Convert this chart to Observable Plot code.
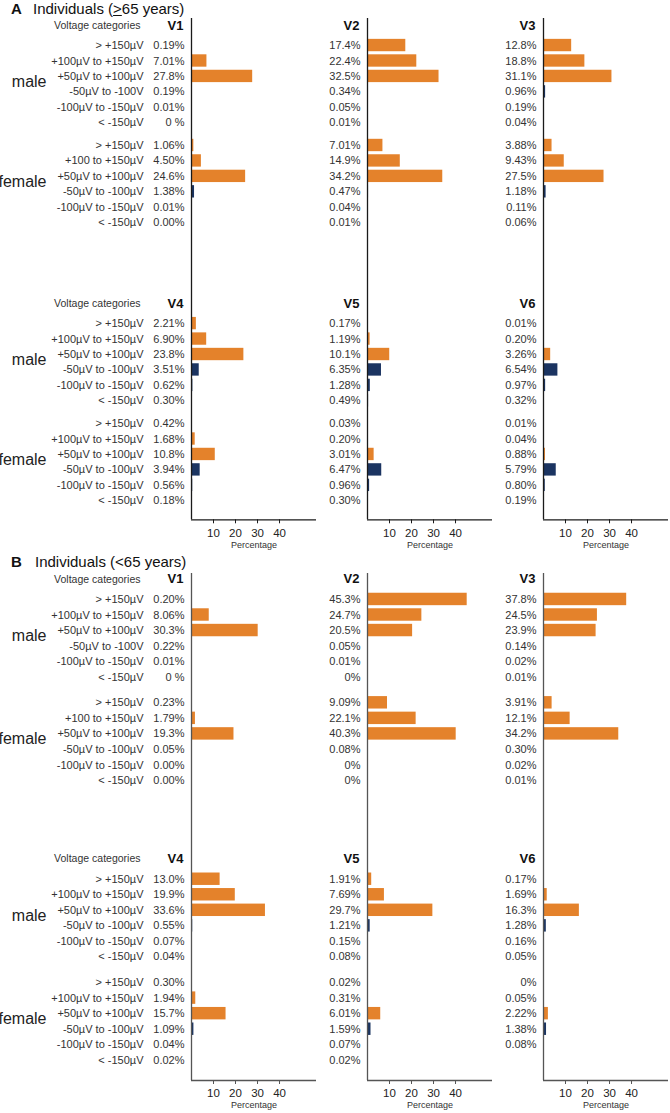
<!DOCTYPE html>
<html><head><meta charset="utf-8">
<script src="https://cdn.jsdelivr.net/npm/d3@7"></script>
<script src="https://cdn.jsdelivr.net/npm/@observablehq/plot@0.6"></script>
<style>
body{margin:0;background:#fff;font-family:"Liberation Sans",Arial,sans-serif;}
#wrap{width:670px;position:relative;}
.title{position:relative;width:670px;font-size:15px;color:#111;white-space:nowrap;}
.title .lt{position:absolute;font-weight:bold;}
.title .tx{position:absolute;}
svg{display:block;}
</style></head><body><div id="wrap"></div>
<script>
// ---------- category labels ----------
const catsStd = ["> +150µV", "+100µV to +150µV", "+50µV to +100µV", "-50µV to -100µV", "-100µV to -150µV", "< -150µV"];
const catsV1male = ["> +150µV", "+100µV to +150µV", "+50µV to +100µV", "-50µV to -100V", "-100µV to -150µV", "< -150µV"];
const catsV1female = ["> +150µV", "+100 to +150µV", "+50µV to +100µV", "-50µV to -100µV", "-100µV to -150µV", "< -150µV"];
const genders = ["male", "female"];
const leadNames = [["V1", "V2", "V3"], ["V4", "V5", "V6"]];

// ---------- Panel A: individuals >=65 years ----------
const A_V1_male   = ["0.19%", "7.01%", "27.8%", "0.19%", "0.01%", "0 %"];
const A_V1_female = ["1.06%", "4.50%", "24.6%", "1.38%", "0.01%", "0.00%"];
const A_V2_male   = ["17.4%", "22.4%", "32.5%", "0.34%", "0.05%", "0.01%"];
const A_V2_female = ["7.01%", "14.9%", "34.2%", "0.47%", "0.04%", "0.01%"];
const A_V3_male   = ["12.8%", "18.8%", "31.1%", "0.96%", "0.19%", "0.04%"];
const A_V3_female = ["3.88%", "9.43%", "27.5%", "1.18%", "0.11%", "0.06%"];
const A_V4_male   = ["2.21%", "6.90%", "23.8%", "3.51%", "0.62%", "0.30%"];
const A_V4_female = ["0.42%", "1.68%", "10.8%", "3.94%", "0.56%", "0.18%"];
const A_V5_male   = ["0.17%", "1.19%", "10.1%", "6.35%", "1.28%", "0.49%"];
const A_V5_female = ["0.03%", "0.20%", "3.01%", "6.47%", "0.96%", "0.30%"];
const A_V6_male   = ["0.01%", "0.20%", "3.26%", "6.54%", "0.97%", "0.32%"];
const A_V6_female = ["0.01%", "0.04%", "0.88%", "5.79%", "0.80%", "0.19%"];

// ---------- Panel B: individuals <65 years ----------
const B_V1_male   = ["0.20%", "8.06%", "30.3%", "0.22%", "0.01%", "0 %"];
const B_V1_female = ["0.23%", "1.79%", "19.3%", "0.05%", "0.00%", "0.00%"];
const B_V2_male   = ["45.3%", "24.7%", "20.5%", "0.05%", "0.01%", "0%"];
const B_V2_female = ["9.09%", "22.1%", "40.3%", "0.08%", "0%", "0%"];
const B_V3_male   = ["37.8%", "24.5%", "23.9%", "0.14%", "0.02%", "0.01%"];
const B_V3_female = ["3.91%", "12.1%", "34.2%", "0.30%", "0.02%", "0.01%"];
const B_V4_male   = ["13.0%", "19.9%", "33.6%", "0.55%", "0.07%", "0.04%"];
const B_V4_female = ["0.30%", "1.94%", "15.7%", "1.09%", "0.04%", "0.02%"];
const B_V5_male   = ["1.91%", "7.69%", "29.7%", "1.21%", "0.15%", "0.08%"];
const B_V5_female = ["0.02%", "0.31%", "6.01%", "1.59%", "0.07%", "0.02%"];
const B_V6_male   = ["0.17%", "1.69%", "16.3%", "1.28%", "0.16%", "0.05%"];
const B_V6_female = ["0%", "0.05%", "2.22%", "1.38%", "0.08%", null];

const xTicks = [10, 20, 30, 40];
const ORANGE = "#E4822B", NAVY = "#1B3461";

function buildRows(table, catTable) {
  const rows = [];
  table.forEach((rowCols, r) => rowCols.forEach((col, c) => col.forEach((series, g) => series.forEach((s, i) => {
    if (s == null) return;
    rows.push({r, c, g, i, label: s, value: parseFloat(s), neg: i >= 3, cat: catTable[r][g][i]});
  }))));
  return rows;
}

function panel(o) {
  const {table, catTable, gap, domain, height, marginTop, marginBottom, axisColor, tickPad, labelDy} = o;
  const rows = buildRows(table, catTable);
  const slot = d => d.r * 18 + d.g * gap + d.i;
  const heads = [];
  leadNames.forEach((names, r) => names.forEach((name, c) => heads.push({r, c, name})));
  const gl = [];
  [0, 1].forEach(r => genders.forEach((name, g) => gl.push({r, g, name})));
  return Plot.plot({
    width: 670, height, marginLeft: 190, marginRight: 2, marginTop, marginBottom,
    style: {fontFamily: "'Liberation Sans', Arial, sans-serif", fontSize: "11px", color: "#222", background: "#fff", overflow: "visible"},
    fx: {axis: null, paddingInner: 0.292, paddingOuter: 0, domain: [0, 1, 2]},
    x: {domain: [0, 56.8]},
    y: {domain: domain, reverse: true, axis: null},
    marks: [
      Plot.rect(rows, {fx: "c", x1: 0, x2: "value", y1: d => slot(d) - 0.4, y2: d => slot(d) + 0.4, fill: d => d.neg ? NAVY : ORANGE}),
      Plot.text(rows, {fx: "c", x: 0, y: slot, text: "label", textAnchor: "end", dx: -7, fill: "#333", fontSize: 11}),
      Plot.text(rows.filter(d => d.c === 0), {fx: "c", x: 0, y: slot, text: "cat", textAnchor: "end", dx: -48, fill: "#333", fontSize: 11}),
      Plot.text(gl, {fx: () => 0, x: 0, y: d => d.r * 18 + d.g * gap + 2.35, text: "name", textAnchor: "end", dx: -145, fill: "#222", fontSize: 16}),
      Plot.text(heads, {fx: "c", x: 0, y: d => d.r * 18 - 1.3, text: "name", textAnchor: "end", dx: -8, fill: "#111", fontSize: 13, fontWeight: "bold"}),
      Plot.text([0, 1], {fx: () => 0, x: 0, y: r => r * 18 - 1.3, text: () => "Voltage categories", textAnchor: "end", dx: -51, fill: "#333", fontSize: 10.5}),
      Plot.ruleX([0], {stroke: axisColor, strokeWidth: 1.3}),
      Plot.ruleY([domain[1]], {stroke: axisColor, strokeWidth: 1.3}),
      Plot.axisX({ticks: xTicks, tickSize: 4, tickPadding: tickPad, fontSize: 11.5, label: null, stroke: axisColor, color: "#222"}),
      Plot.text(["Percentage"], {frameAnchor: "bottom", dy: labelDy, fontSize: 9, fill: "#333"})
    ]
  });
}

function title(letter, text, h, lh, leftText) {
  const d = document.createElement("div");
  d.className = "title";
  d.style.height = h + "px";
  d.style.lineHeight = lh + "px";
  d.innerHTML = `<span class="lt" style="left:11px">${letter}</span><span class="tx" style="left:${leftText}px">${text}</span>`;
  return d;
}

const wrap = document.getElementById("wrap");
wrap.appendChild(title("A", "Individuals (<u>&gt;</u>65 years)", 14, 18, 33));
wrap.appendChild(panel({
  table: [[[A_V1_male, A_V1_female], [A_V2_male, A_V2_female], [A_V3_male, A_V3_female]],
          [[A_V4_male, A_V4_female], [A_V5_male, A_V5_female], [A_V6_male, A_V6_female]]],
  catTable: [[catsV1male, catsV1female], [catsStd, catsStd]],
  gap: 6.47, domain: [-1.75, 30.7], height: 538, marginTop: 4, marginBottom: 32.7, axisColor: "#1a1a1a", tickPad: 5, labelDy: 28
}));
wrap.appendChild(title("B", "Individuals (&lt;65 years)", 20, 20, 35));
wrap.appendChild(panel({
  table: [[[B_V1_male, B_V1_female], [B_V2_male, B_V2_female], [B_V3_male, B_V3_female]],
          [[B_V4_male, B_V4_female], [B_V5_male, B_V5_female], [B_V6_male, B_V6_female]]],
  catTable: [[catsV1male, catsV1female], [catsStd, catsStd]],
  gap: 6.65, domain: [-1.67, 30.95], height: 541, marginTop: 1, marginBottom: 33, axisColor: "#555", tickPad: 4, labelDy: 27
}));
</script></body></html>
